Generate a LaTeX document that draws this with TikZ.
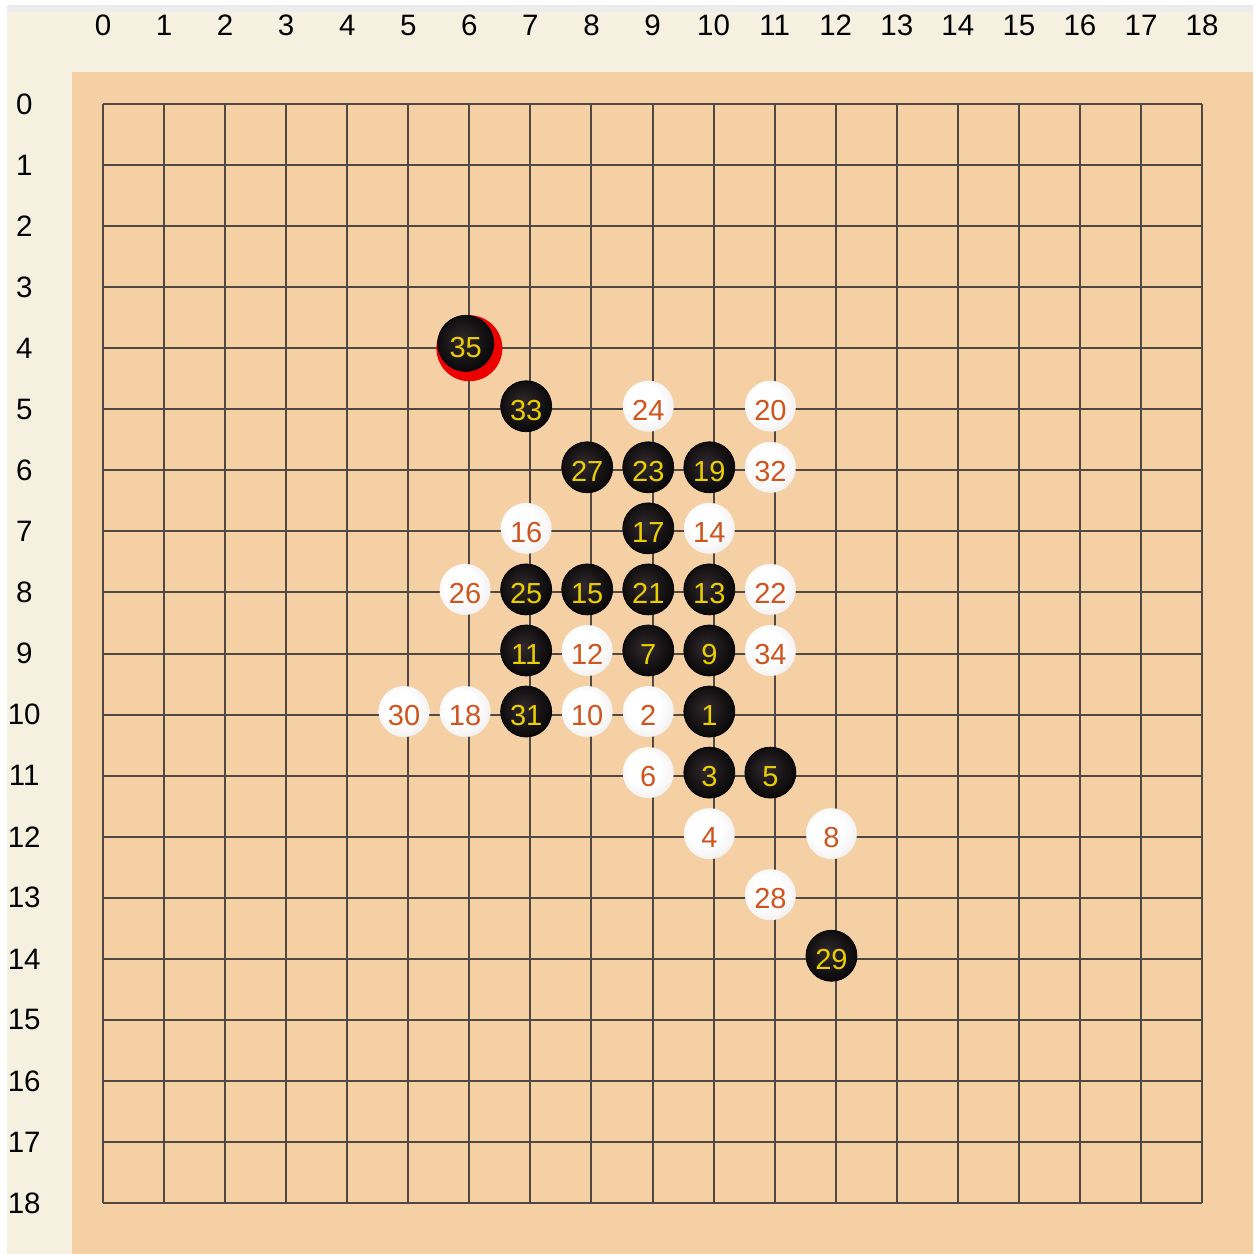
\documentclass[tikz,border=0pt]{standalone}
\usepackage{fontspec}
\setmainfont{Liberation Sans}
\definecolor{boardtan}{RGB}{244,208,164}
\definecolor{framecream}{RGB}{245,240,224}
\definecolor{stripgray}{RGB}{236,236,236}
\definecolor{gridgray}{RGB}{80,72,66}
\definecolor{blacknum}{RGB}{234,206,0}
\definecolor{whitenum}{RGB}{208,84,30}
\definecolor{whiteedge}{RGB}{222,213,213}
\definecolor{blackmid}{RGB}{50,42,46}
\definecolor{ringred}{RGB}{236,0,0}
\pgfdeclareradialshading{whiteshade}{\pgfpoint{-6bp}{6bp}}{color(0bp)=(white); color(16bp)=(white); color(50bp)=(whiteedge)}
\pgfdeclareradialshading{blackshade}{\pgfpoint{-4bp}{4bp}}{color(0bp)=(blackmid); color(28bp)=(black!85!blackmid); color(50bp)=(black)}
\tikzset{
  gridline/.style={draw=gridgray, line width=0.4mm},
  axislabel/.style={font=\fontsize{16.8}{18}\selectfont, text=black, inner sep=0pt},
  bstone/.style={circle, shading=blackshade, draw=black, line width=0.15mm,
                 text=blacknum, minimum size=1.02cm, inner sep=0pt,
                 font=\fontsize{16.5}{18}\selectfont, text height=0.56cm, text depth=0cm},
  wstone/.style={circle, shading=whiteshade, text=whitenum,
                 minimum size=1.02cm, inner sep=0pt,
                 font=\fontsize{16.5}{18}\selectfont, text height=0.56cm, text depth=0cm},
  lastring/.style={circle, fill=ringred, minimum size=1.32cm, inner sep=0pt}
}
\begin{document}
\begin{tikzpicture}[x=1.2212cm, y=-1.2212cm]
  \useasboundingbox (-1.687,-1.703) rectangle (18.834,18.834);
  \fill[stripgray] (-1.572,-1.621) rectangle (18.834,-1.507);
  \fill[framecream] (-1.572,-1.507) rectangle (18.834,18.834);
  \fill[boardtan] (-0.508,-0.524) rectangle (18.834,18.834);

  \foreach \k in {0,...,18} {
    \draw[gridline] (\k,0) -- (\k,18);
    \draw[gridline] (0,\k) -- (18,\k);
    \node[axislabel] (colno\k) at (\k,-1.29) {\k};
    \node[axislabel] (rowno\k) at (-1.29,\k) {\k};
  }

  \foreach \c/\r/\n in {10/10/1, 10/11/3, 11/11/5, 9/9/7, 10/9/9, 7/9/11,
                        10/8/13, 8/8/15, 9/7/17, 10/6/19, 9/8/21, 9/6/23,
                        7/8/25, 8/6/27, 12/14/29, 7/10/31, 7/5/33} {
    \node[bstone] (mv\n) at (\c-0.07,\r-0.05) {\n};
  }
  \foreach \c/\r/\n in {9/10/2, 10/12/4, 9/11/6, 12/12/8, 8/10/10, 8/9/12,
                        10/7/14, 7/7/16, 6/10/18, 11/5/20, 11/8/22, 9/5/24,
                        6/8/26, 11/13/28, 5/10/30, 11/6/32, 11/9/34} {
    \node[wstone] (mv\n) at (\c-0.07,\r-0.05) {\n};
  }

  \node[lastring] (ring35) at (6,4) {};
  \node[bstone, minimum size=1.12cm] (mv35) at (5.94,3.92) {35};
\end{tikzpicture}
\end{document}
